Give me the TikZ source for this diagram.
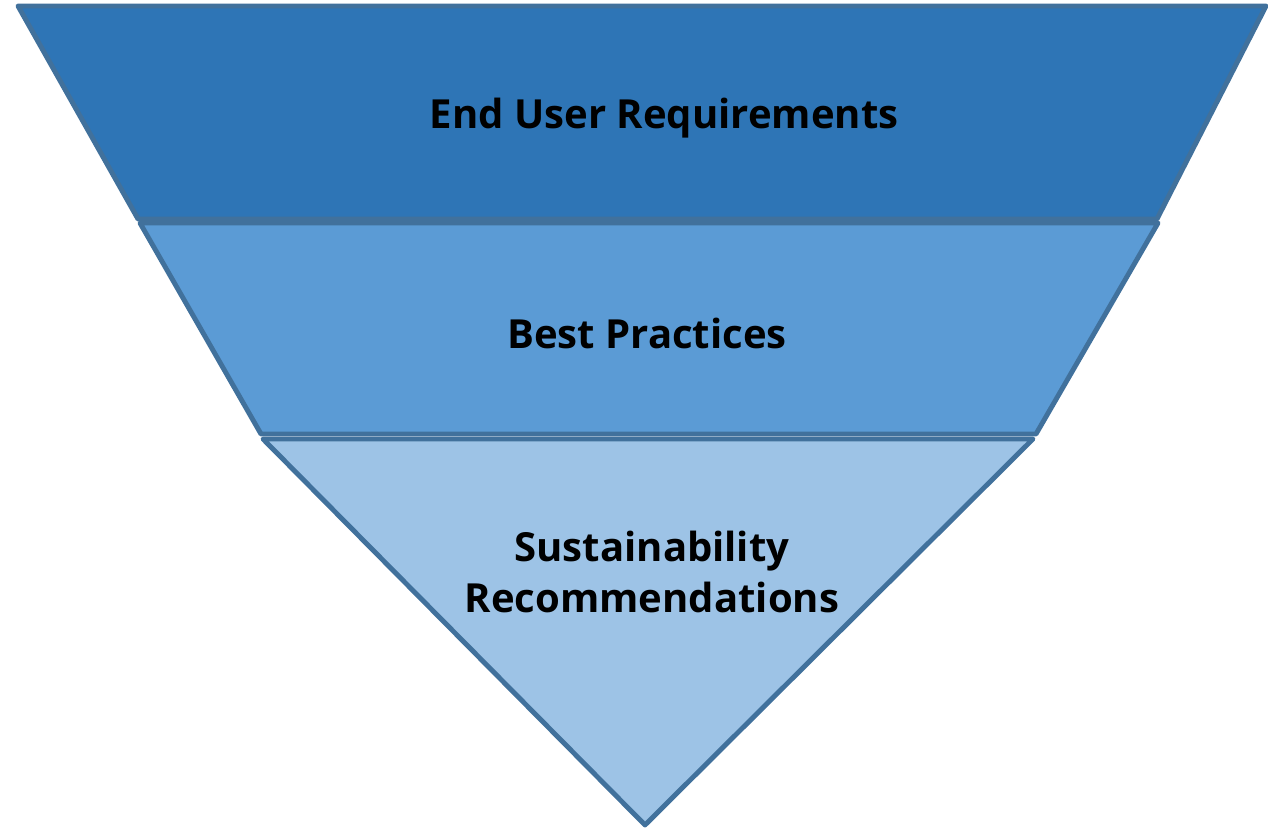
\documentclass[tikz,border=0pt]{standalone}
\usepackage{fontspec}
\setmainfont{Open Sans}
\usepackage{xcolor}
\definecolor{bandDark}{HTML}{2E75B6}
\definecolor{bandMid}{HTML}{5B9BD5}
\definecolor{bandLight}{HTML}{9DC3E6}
\definecolor{bandEdge}{HTML}{41719C}
\tikzset{
    funnel-band/.style = {draw=bandEdge, line width=2.8pt, line join=round},
    funnel-label/.style = {text=black, font=\bfseries\fontsize{22.8}{29.5}\selectfont, align=center},
}

\begin{document}
\begin{tikzpicture}[x=0.02cm, y=-0.02cm]
\useasboundingbox (0,0) rectangle (1268,828);
\fill[white] (0,0) rectangle (1268,828);
\draw[funnel-band, fill=bandDark] (18,6) -- (1266,6) -- (1157,219) -- (138,219) -- cycle;
\draw[funnel-band, fill=bandMid] (140,223) -- (1158,223) -- (1036,434) -- (261,434) -- cycle;
\draw[funnel-band, fill=bandLight] (263,439) -- (1033,439) -- (645,825) -- cycle;
\node[funnel-label] (req) at (664,118) {End User Requirements};
\node[funnel-label] (best) at (647,333) {Best Practices};
\node[funnel-label] (sust) at (652,572) {Sustainability\\Recommendations};
\end{tikzpicture}
\end{document}
